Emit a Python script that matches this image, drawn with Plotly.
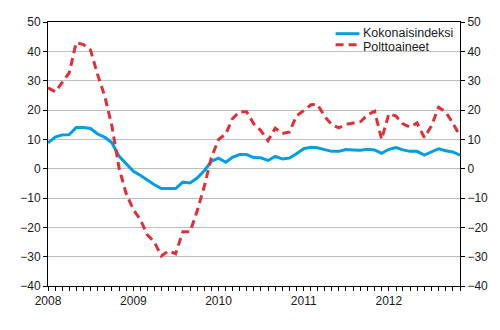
import pandas as pd
import plotly.graph_objects as go

# Monthly year-on-year change (%), January 2008 - November 2012
months = pd.date_range("2008-01-01", periods=59, freq="MS")

kokonaisindeksi = [
    8.8, 10.8, 11.5, 11.6, 14.0, 14.0, 13.7, 11.8, 10.7, 8.8, 4.2, 1.6,
    -0.9, -2.3, -3.9, -5.5, -6.8, -6.7, -6.8, -4.6, -4.9, -3.2, -0.7, 2.5,
    3.6, 2.2, 3.9, 4.8, 4.8, 3.8, 3.7, 2.8, 4.2, 3.3, 3.6, 5.1,
    6.8, 7.3, 7.1, 6.5, 5.9, 5.9, 6.5, 6.4, 6.3, 6.6, 6.4, 5.2,
    6.6, 7.2, 6.4, 5.9, 5.9, 4.6, 5.7, 6.8, 6.1, 5.7, 4.6,
]
polttoaineet = [
    27.6, 26.2, 29.3, 32.7, 43.0, 42.3, 40.5, 32.0, 24.5, 14.5, 0.0, -8.5,
    -14.0, -17.5, -22.5, -25.0, -29.8, -28.0, -29.0, -21.5, -21.5, -14.5, -6.0, 3.7,
    10.0, 11.8, 17.0, 19.4, 19.4, 15.3, 13.0, 9.5, 13.8, 12.0, 12.5, 18.0,
    19.8, 21.8, 21.9, 17.8, 15.0, 13.9, 15.1, 15.6, 16.0, 18.3, 19.6, 10.0,
    18.7, 17.9, 15.3, 14.2, 15.6, 10.6, 14.5, 20.9, 19.3, 15.5, 11.2,
]
series_names = ["Kokonaisindeksi", "Polttoaineet"]
y_ticks = list(range(-40, 51, 10))

BLUE = "#009FE3"
RED = "#DE3036"
FONT = "Liberation Sans, Arial, sans-serif"

fig = go.Figure()
fig.add_trace(go.Scatter(
    x=months, y=kokonaisindeksi, name=series_names[0], mode="lines",
    line=dict(color=BLUE, width=3), showlegend=False, yaxis="y",
))
fig.add_trace(go.Scatter(
    x=months, y=polttoaineet, name=series_names[1], mode="lines",
    line=dict(color=RED, width=3, dash="8px,5px"), showlegend=False, yaxis="y2",
))

axis_font = dict(family=FONT, size=12, color="#1a1a1a")
yrange = [-40, 50]

fig.update_layout(
    width=500, height=330,
    margin=dict(l=48, r=28, t=22, b=44),
    paper_bgcolor="white", plot_bgcolor="white",
    font=dict(family=FONT, size=12, color="#1a1a1a"),
    xaxis=dict(
        type="date",
        range=[months[0], months[-1]],
        dtick="M12", tickformat="%Y",
        ticks="outside", ticklen=4, tickcolor="black",
        minor=dict(dtick="M1", ticks="outside", ticklen=4, tickcolor="black", showgrid=False),
        showgrid=False, showline=True, linecolor="black", linewidth=1,
        mirror=True, zeroline=False, tickfont=axis_font,
    ),
    yaxis=dict(
        range=yrange, tickvals=y_ticks,
        showgrid=True, gridcolor="#BEBEBE", gridwidth=1,
        zeroline=False, showline=True, linecolor="black", linewidth=1,
        ticks="outside", ticklen=4, tickcolor="black", tickfont=axis_font,
    ),
    yaxis2=dict(
        range=yrange, tickvals=y_ticks, overlaying="y", side="right",
        showgrid=False, zeroline=False, showline=True, linecolor="black", linewidth=1,
        ticks="outside", ticklen=4, tickcolor="black", tickfont=axis_font,
    ),
    showlegend=False,
)

# Legend box drawn in paper coordinates
shapes = [
    dict(type="rect", xref="paper", yref="paper", x0=0.696, x1=0.998, y0=0.885, y1=0.995,
         fillcolor="white", line=dict(width=0), layer="between"),
    dict(type="line", xref="paper", yref="paper", x0=0.698, x1=0.756, y0=0.9557, y1=0.9557,
         line=dict(color=BLUE, width=3)),
    dict(type="line", xref="paper", yref="paper", x0=0.698, x1=0.756, y0=0.914, y1=0.914,
         line=dict(color=RED, width=3, dash="8px,5px")),
]
annotations = [
    dict(xref="paper", yref="paper", x=0.762, y=y, text=name, showarrow=False,
         xanchor="left", yanchor="middle", height=14, borderpad=0,
         font=dict(family=FONT, size=12.5, color="#1a1a1a"))
    for name, y in zip(series_names, [0.9595, 0.9064])
]
fig.update_layout(shapes=shapes, annotations=annotations)

fig.write_html("out.html")
